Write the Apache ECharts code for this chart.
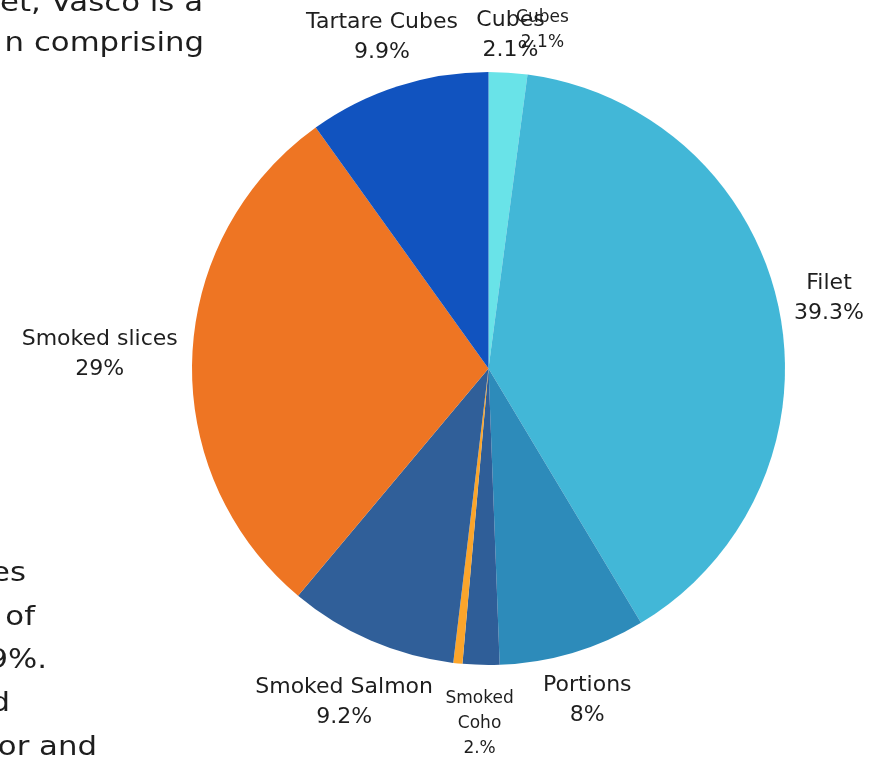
<!DOCTYPE html>
<html>
<head>
<meta charset="utf-8">
<script src="https://cdn.jsdelivr.net/npm/echarts@6/dist/echarts.min.js"></script>
<style>
  html, body { margin: 0; padding: 0; background: #ffffff; }
  #chart { width: 874px; height: 760px; }
</style>
</head>
<body>
<div id="chart"></div>
<script>
// Product mix (share of volume, %)
const categories = ['Cubes', 'Filet', 'Portions', 'Smoked Coho', 'Other', 'Smoked Salmon', 'Smoked slices', 'Tartare Cubes'];
const shares = [2.1, 39.3, 8, 2, 0.5, 9.2, 29, 9.9];
const shareLabels = ['2.1%', '39.3%', '8%', '2.%', '', '9.2%', '29%', '9.9%'];
const nameLabels = ['Cubes', 'Filet', 'Portions', 'Smoked\nCoho', '', 'Smoked Salmon', 'Smoked slices', 'Tartare Cubes'];

// Styling
const sliceColors = ['#69e3e8', '#42b7d7', '#2d8bba', '#2f5e98', '#fba52b', '#305f99', '#ee7523', '#1153bf'];
const smallLabel = [false, false, false, true, false, false, false, false];
const labelPush = [6, 0, 9, 29, 4, 4, 0, 0];
const FONT = "'DejaVu Sans', sans-serif";
const TEXT = '#1e1e1e';
const CX = 488.5, CY = 368.5, R = 296.5;

const chart = echarts.init(document.getElementById('chart'));
const total = shares.reduce((a, b) => a + b, 0);

// mid angle of a slice, measured clockwise from 12 o'clock
function midAngle(i) {
  let before = 0;
  for (let k = 0; k < i; k++) before += shares[k];
  return (before + shares[i] / 2) / total * Math.PI * 2;
}

// centre each label on the slice's mid-angle, just outside the rim
function placeLabel(params, extraX, extraY) {
  const i = params.dataIndex;
  const a = midAngle(i);
  const sx = Math.sin(a), sy = -Math.cos(a);
  const w = params.labelRect.width;
  const d = R + 14 + Math.abs(sx) * w / 2 + Math.abs(sy) * 15 + labelPush[i];
  return {
    x: CX + d * sx + (extraX || 0),
    y: CY + d * sy + (extraY || 0),
    align: 'center',
    verticalAlign: 'middle',
    hideOverlap: false
  };
}

function richText(i, small) {
  const tag = small ? 's' : 'b';
  const lines = nameLabels[i].split('\n').map(t => '{' + tag + '|' + t + '}');
  lines.push('{' + tag + '|' + shareLabels[i] + '}');
  return lines.join('\n');
}

const rich = {
  b: { fontFamily: FONT, fontSize: 22, lineHeight: 30, color: TEXT, align: 'center' },
  s: { fontFamily: FONT, fontSize: 17, lineHeight: 25, color: TEXT, align: 'center' }
};

const mainData = categories.map((name, i) => ({
  name: name,
  value: shares[i],
  itemStyle: { color: sliceColors[i] },
  label: { show: nameLabels[i] !== '', formatter: () => richText(i, smallLabel[i]) }
}));

// a second, transparent copy of the pie carries the small duplicate Cubes caption
const ghostData = categories.map((name, i) => ({
  name: name,
  value: shares[i],
  itemStyle: { color: 'rgba(0,0,0,0)' },
  label: { show: i === 0, formatter: () => richText(i, true) }
}));

// paragraph text running behind the chart on the left
const sideText = [
  { t: 'et, Vasco is a', x: 203, y: 4 },
  { t: 'n comprising', x: 204, y: 44 },
  { t: 'es', x: 26, y: 574 },
  { t: 'of', x: 35, y: 618 },
  { t: '9%.', x: 47, y: 661 },
  { t: 'd', x: 10, y: 704 },
  { t: 'or and', x: 97, y: 748 }
];

const pieBase = {
  type: 'pie',
  center: [CX, CY],
  radius: R,
  startAngle: 90,
  clockwise: true,
  avoidLabelOverlap: false,
  animation: false,
  emphasis: { disabled: true },
  labelLine: { show: false },
  label: { position: 'outside', rich: rich, color: TEXT, fontFamily: FONT }
};

chart.setOption({
  backgroundColor: '#ffffff',
  animation: false,
  graphic: sideText.map(s => ({
    type: 'text',
    x: s.x,
    y: s.y,
    scaleX: 1.14,
    silent: true,
    style: {
      text: s.t,
      fill: TEXT,
      font: '27px ' + FONT,
      align: 'right',
      verticalAlign: 'middle'
    }
  })),
  series: [
    Object.assign({}, pieBase, {
      name: 'Share',
      data: mainData,
      labelLayout: p => placeLabel(p)
    }),
    Object.assign({}, pieBase, {
      name: 'Share caption',
      silent: true,
      data: ghostData,
      labelLayout: p => placeLabel(p, 32, -6)
    })
  ]
});
</script>
</body>
</html>
